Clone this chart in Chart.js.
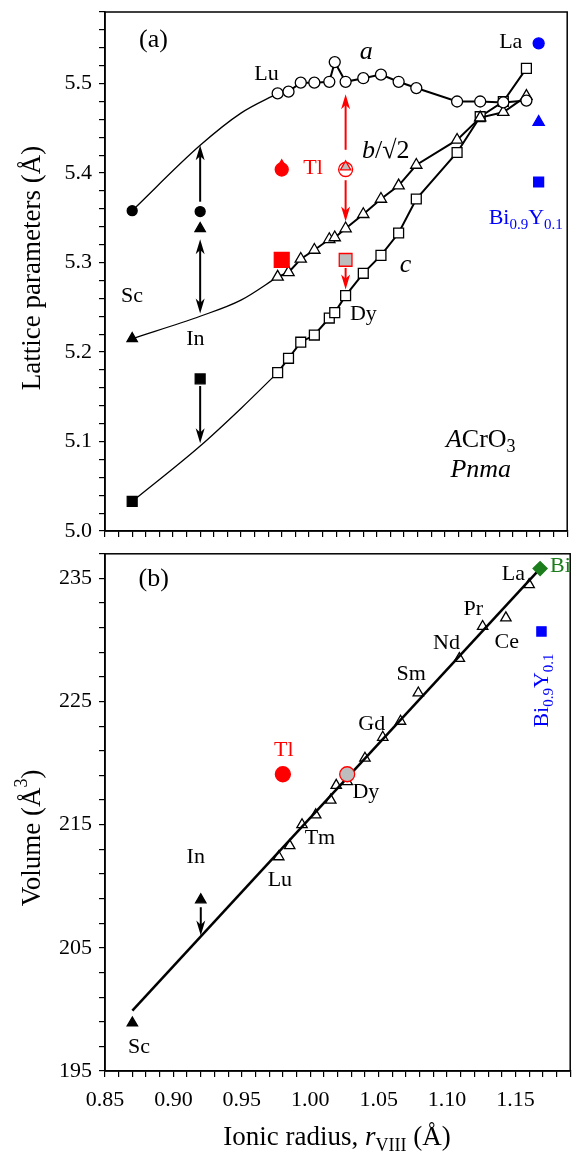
<!DOCTYPE html>
<html>
<head>
<meta charset="utf-8">
<title>ACrO3 lattice parameters and volume</title>
<script src="https://cdn.jsdelivr.net/npm/chart.js@4.4.1/dist/chart.umd.min.js"></script>
<style>
  body { margin: 0; background: #fff; }
  #wrap { position: relative; width: 579px; height: 1152px; }
  canvas { position: absolute; left: 0; }
</style>
</head>
<body>
<div id="wrap">
  <canvas id="chartA" width="579" height="545" style="top:0"></canvas>
  <canvas id="chartB" width="579" height="607" style="top:545px"></canvas>
</div>
<script>
// rare-earth series, ionic radius r_VIII (Lu -> La)
var rareEarths = ['Lu', 'Yb', 'Tm', 'Er', 'Ho', 'Y', 'Dy', 'Tb', 'Gd', 'Eu', 'Sm', 'Nd', 'Pr', 'Ce', 'La'];
var radius = [0.977, 0.985, 0.994, 1.004, 1.015, 1.019, 1.027, 1.040, 1.053, 1.066, 1.079, 1.109, 1.126, 1.143, 1.160];
var aParam = [5.489, 5.491, 5.501, 5.501, 5.502, 5.524, 5.502, 5.506, 5.510, 5.502, 5.495, 5.480, 5.480, 5.479, 5.481];
var bParam = [5.284, 5.289, 5.304, 5.314, 5.326, 5.328, 5.338, 5.354, 5.371, 5.386, 5.409, 5.437, 5.462, 5.468, 5.486];
var cParam = [5.177, 5.193, 5.211, 5.219, 5.238, 5.244, 5.263, 5.288, 5.308, 5.333, 5.371, 5.423, 5.463, 5.480, 5.517];
var volume = [212.4, 213.3, 215.0, 215.8, 217.0, 218.2, 218.5, 220.4, 222.1, 223.4, 225.7, 228.5, 231.1, 231.8, 234.5];

// Sc and In
var scInRadius = [0.870, 0.920];
var scInA = [5.358, 5.357];
var scInB = [5.215, 5.338];
var scInC = [5.033, 5.170];
var scInVolume = [198.9, 208.9];

// Tl
var tlRadius = [0.980];
var tlA = [5.404];
var tlB = [5.408];
var tlC = [5.303];
var tlVolume = [219.1];

// Dy (grey symbols)
var dyRadius = [1.027];
var dyA = [5.404];
var dyB = [5.407];
var dyC = [5.303];
var dyVolume = [219.1];

// Bi0.9Y0.1 and Bi
var biYRadius = [1.169];
var biYA = [5.545];
var biYB = [5.457];
var biYC = [5.390];
var biYVolume = [230.7];
var biRadius = [1.168];
var biVolume = [235.8];

// guide curves from Sc to Lu
var guideRadius = [0.870, 0.920, 0.950, 0.977];
var guideA = [5.358, 5.431, 5.467, 5.489];
var guideB = [5.215, 5.240, 5.258, 5.284];
var guideC = [5.033, 5.095, 5.137, 5.177];

// straight line through the volumes
var fitRadius = [0.870, 1.168];
var fitVolume = [199.9, 235.8];

// tick labels
var radiusTicks = [0.85, 0.90, 0.95, 1.00, 1.05, 1.10, 1.15];
var latticeTicks = [5.0, 5.1, 5.2, 5.3, 5.4, 5.5];
var volumeTicks = [195, 205, 215, 225, 235];

var serif = '"Liberation Serif", "Times New Roman", serif';
var red = '#ff0000', grey = '#bdbdbd', blue = '#0000ff', green = '#1b7d1b';

function pts(xs, ys) {
  return xs.map(function (x, i) { return { x: x, y: ys[i] }; });
}

function stepTicks(min, max, step) {
  var out = [];
  var n = Math.round((max - min) / step);
  for (var i = 0; i <= n; i++) out.push({ value: +(min + i * step).toFixed(4) });
  return out;
}

function labelFor(v, list, digits) {
  for (var i = 0; i < list.length; i++) {
    if (Math.abs(list[i] - v) < 1e-6) return v.toFixed(digits);
  }
  return '';
}

function noPad(s) {
  s.paddingTop = 0; s.paddingBottom = 0; s.paddingLeft = 0; s.paddingRight = 0;
}

// text made of parts: [text, style], style '' | 'i' | 'sub' | 'sup'
function partFont(p, size) {
  var small = p[1] === 'sub' || p[1] === 'sup';
  return (p[1] === 'i' ? 'italic ' : '') + (small ? Math.round(size * 0.68) : size) + 'px ' + serif;
}

function drawRich(ctx, parts, x, y, size, align) {
  var w = 0;
  parts.forEach(function (p) { ctx.font = partFont(p, size); w += ctx.measureText(p[0]).width; });
  var cx = align === 'left' ? x : (align === 'right' ? x - w : x - w / 2);
  ctx.textAlign = 'left';
  ctx.textBaseline = 'middle';
  parts.forEach(function (p) {
    ctx.font = partFont(p, size);
    var dy = p[1] === 'sub' ? size * 0.3 : (p[1] === 'sup' ? -size * 0.4 : 0);
    ctx.fillText(p[0], cx, y + dy);
    cx += ctx.measureText(p[0]).width;
  });
}

function arrowHead(ctx, x, y, dir) {
  var len = 15, half = 4.5;
  ctx.beginPath();
  ctx.moveTo(x, y);
  ctx.lineTo(x - half, y - dir * len);
  ctx.lineTo(x, y - dir * len * 0.72);
  ctx.lineTo(x + half, y - dir * len);
  ctx.closePath();
  ctx.fill();
}

function drawArrow(ctx, x, y0, y1, color, both) {
  var dir = y1 > y0 ? 1 : -1;
  ctx.strokeStyle = color;
  ctx.fillStyle = color;
  ctx.lineWidth = 2;
  ctx.beginPath();
  ctx.moveTo(x, y0 + (both ? dir * 10 : 0));
  ctx.lineTo(x, y1 - dir * 10);
  ctx.stroke();
  arrowHead(ctx, x, y1, dir);
  if (both) arrowHead(ctx, x, y0, -dir);
}

// frame, arrows, labels and axis titles on top of the datasets
function overlay(labels, arrows, titles) {
  return {
    id: 'overlay',
    afterDraw: function (chart) {
      var ctx = chart.ctx, xs = chart.scales.x, ys = chart.scales.y, area = chart.chartArea;
      ctx.save();
      ctx.strokeStyle = '#000';
      ctx.lineWidth = 1.5;
      ctx.strokeRect(area.left, area.top, area.right - area.left, area.bottom - area.top);
      arrows.forEach(function (a) {
        drawArrow(ctx, xs.getPixelForValue(a.x), ys.getPixelForValue(a.from), ys.getPixelForValue(a.to), a.color || '#000', a.both);
      });
      labels.forEach(function (l) {
        ctx.fillStyle = l.color || '#000';
        var px = xs.getPixelForValue(l.x), py = ys.getPixelForValue(l.y);
        if (l.rotate) {
          ctx.save();
          ctx.translate(px, py);
          ctx.rotate(l.rotate);
          drawRich(ctx, l.parts, 0, 0, l.size, 'center');
          ctx.restore();
        } else {
          drawRich(ctx, l.parts, px, py, l.size, l.align || 'center');
        }
      });
      titles.forEach(function (t) {
        ctx.fillStyle = '#000';
        ctx.save();
        ctx.translate(t.x, t.y);
        if (t.rotate) ctx.rotate(t.rotate);
        drawRich(ctx, t.parts, 0, 0, t.size, 'center');
        ctx.restore();
      });
      ctx.restore();
    }
  };
}

function radiusAxis(showLabels, height) {
  return {
    type: 'linear', min: 0.85, max: 1.19,
    afterBuildTicks: function (s) { s.ticks = stepTicks(0.85, 1.19, 0.01); },
    afterFit: function (s) { s.height = height; noPad(s); },
    ticks: {
      autoSkip: false, maxRotation: 0, minRotation: 0, padding: 10, color: '#000',
      font: { family: serif, size: 22 },
      callback: function (v) { return showLabels ? labelFor(v, radiusTicks, 2) : ''; }
    },
    grid: { drawOnChartArea: false, drawTicks: true, tickLength: 6, color: '#000', lineWidth: 1.2 },
    border: { display: true, color: '#000', width: 1.5 }
  };
}

function valueAxis(min, max, step, list, digits) {
  return {
    type: 'linear', min: min, max: max,
    afterBuildTicks: function (s) { s.ticks = stepTicks(min, max, step); },
    afterFit: function (s) { s.width = 105; noPad(s); },
    ticks: {
      autoSkip: false, padding: 7, color: '#000',
      font: { family: serif, size: 22 },
      callback: function (v) { return labelFor(v, list, digits); }
    },
    grid: { drawOnChartArea: false, drawTicks: true, tickLength: 6, color: '#000', lineWidth: 1.2 },
    border: { display: true, color: '#000', width: 1.5 }
  };
}

function marks(data, style, r, fill, edge, extra) {
  var ds = {
    data: data, showLine: false, pointStyle: style, pointRadius: r,
    pointBackgroundColor: fill, pointBorderColor: edge || fill, pointBorderWidth: 1.3,
    borderColor: edge || fill
  };
  for (var k in extra || {}) ds[k] = extra[k];
  return ds;
}

function guide(ys) {
  return {
    data: pts(guideRadius, ys), showLine: true, pointRadius: 0,
    borderColor: '#000', borderWidth: 1.3, cubicInterpolationMode: 'monotone'
  };
}

var common = {
  type: 'scatter',
  options: {
    responsive: false, animation: false, events: [],
    plugins: { legend: { display: false }, tooltip: { enabled: false } }
  }
};

// (a) lattice parameters
var labelsA = [
  { x: 0.8856, y: 5.549, parts: [['(a)', '']], size: 26 },
  { x: 0.9688, y: 5.511, parts: [['Lu', '']], size: 22 },
  { x: 1.0421, y: 5.535, parts: [['a', 'i']], size: 26 },
  { x: 1.1485, y: 5.546, parts: [['La', '']], size: 22 },
  { x: 1.0565, y: 5.424, parts: [['b', 'i'], ['/\u221A2', '']], size: 26 },
  { x: 1.0030, y: 5.405, parts: [['Tl', '']], size: 22, color: red },
  { x: 0.8698, y: 5.262, parts: [['Sc', '']], size: 22 },
  { x: 0.9165, y: 5.214, parts: [['In', '']], size: 22 },
  { x: 1.0401, y: 5.242, parts: [['Dy', '']], size: 22 },
  { x: 1.0711, y: 5.297, parts: [['c', 'i']], size: 26 },
  { x: 1.1595, y: 5.349, parts: [['Bi', ''], ['0.9', 'sub'], ['Y', ''], ['0.1', 'sub']], size: 22, color: blue },
  { x: 1.1264, y: 5.102, parts: [['A', 'i'], ['CrO', ''], ['3', 'sub']], size: 26 },
  { x: 1.1264, y: 5.068, parts: [['Pnma', 'i']], size: 26 }
];
var arrowsA = [
  { x: 0.92, from: 5.368, to: 5.431 },
  { x: 0.92, from: 5.326, to: 5.243, both: true },
  { x: 0.92, from: 5.162, to: 5.098 },
  { x: 1.027, from: 5.426, to: 5.488, color: red },
  { x: 1.027, from: 5.392, to: 5.346, color: red },
  { x: 1.027, from: 5.294, to: 5.270, color: red }
];
var titlesA = [
  { x: 33, y: 268, rotate: -Math.PI / 2, parts: [['Lattice parameters (\u00C5)', '']], size: 27 }
];

new Chart(document.getElementById('chartA'), {
  type: common.type,
  data: {
    datasets: [
      marks(pts(tlRadius, tlB), 'triangle', 6, red),
      marks(pts(tlRadius, tlA), 'circle', 6.5, red),
      marks(pts(tlRadius, tlC), 'rect', 10.5, red),
      marks(pts(dyRadius, dyB), 'triangle', 6, grey, red),
      marks(pts(dyRadius, dyA), 'circle', 7, '#fff', red),
      marks(pts(dyRadius, dyC), 'rect', 9, grey, red),
      marks(pts(biYRadius, biYA), 'circle', 5.5, blue),
      marks(pts(biYRadius, biYB), 'triangle', 6.5, blue),
      marks(pts(biYRadius, biYC), 'rect', 7, blue),
      marks(pts(scInRadius, scInA), 'circle', 5, '#000'),
      marks(pts(scInRadius, scInB), 'triangle', 6, '#000'),
      marks(pts(scInRadius, scInC), 'rect', 7, '#000'),
      marks(pts(radius, aParam), 'circle', 5.5, '#fff', '#000', { showLine: true, borderWidth: 2 }),
      marks(pts(radius, bParam), 'triangle', 6.5, '#fff', '#000', { showLine: true, borderWidth: 2 }),
      marks(pts(radius, cParam), 'rect', 7, '#fff', '#000', { showLine: true, borderWidth: 2 }),
      guide(guideA),
      guide(guideB),
      guide(guideC)
    ]
  },
  options: Object.assign({}, common.options, {
    layout: { padding: { top: 12, right: 1, left: 0, bottom: 0 } },
    scales: {
      x: radiusAxis(false, 14),
      y: valueAxis(5.0, 5.58, 0.02, latticeTicks, 1)
    }
  }),
  plugins: [overlay(labelsA, arrowsA, titlesA)]
});

// (b) unit-cell volume
var labelsB = [
  { x: 0.8856, y: 234.92, parts: [['(b)', '']], size: 26 },
  { x: 1.1485, y: 235.34, parts: [['La', '']], size: 22 },
  { x: 1.1753, y: 236.0, parts: [['Bi', '']], size: 22, color: green, align: 'left' },
  { x: 1.1192, y: 232.54, parts: [['Pr', '']], size: 22 },
  { x: 1.1436, y: 229.8, parts: [['Ce', '']], size: 22 },
  { x: 1.0996, y: 229.7, parts: [['Nd', '']], size: 22 },
  { x: 1.0737, y: 227.2, parts: [['Sm', '']], size: 22 },
  { x: 1.0450, y: 223.14, parts: [['Gd', '']], size: 22 },
  { x: 1.0407, y: 217.6, parts: [['Dy', '']], size: 22 },
  { x: 1.0071, y: 213.88, parts: [['Tm', '']], size: 22 },
  { x: 0.9778, y: 210.5, parts: [['Lu', '']], size: 22 },
  { x: 0.9163, y: 212.4, parts: [['In', '']], size: 22 },
  { x: 0.8748, y: 196.9, parts: [['Sc', '']], size: 22 },
  { x: 0.9807, y: 221.08, parts: [['Tl', '']], size: 22, color: red },
  { x: 1.1696, y: 225.9, parts: [['Bi', ''], ['0.9', 'sub'], ['Y', ''], ['0.1', 'sub']], size: 22, color: blue, rotate: -Math.PI / 2 }
];
var arrowsB = [
  { x: 0.92, from: 208.3, to: 206.0 }
];
var titlesB = [
  { x: 33, y: 293, rotate: -Math.PI / 2, parts: [['Volume (\u00C5', ''], ['3', 'sup'], [')', '']], size: 27 },
  { x: 337, y: 593, parts: [['Ionic radius, ', ''], ['r', 'i'], ['VIII', 'sub'], [' (\u00C5)', '']], size: 27 }
];

new Chart(document.getElementById('chartB'), {
  type: common.type,
  data: {
    datasets: [
      marks(pts(tlRadius, tlVolume), 'circle', 7.5, red),
      marks(pts(dyRadius, dyVolume), 'circle', 7.5, grey, red),
      marks(pts(biRadius, biVolume), 'rectRot', 7, green),
      marks(pts(biYRadius, biYVolume), 'rect', 6.5, blue),
      marks(pts(scInRadius, scInVolume), 'triangle', 6, '#000'),
      { data: pts(fitRadius, fitVolume), showLine: true, pointRadius: 0, borderColor: '#000', borderWidth: 2.5 },
      marks(pts(radius, volume), 'triangle', 6, '#fff', '#000')
    ]
  },
  options: Object.assign({}, common.options, {
    layout: { padding: { top: 1, right: 1, left: 0, bottom: 0 } },
    scales: {
      x: radiusAxis(true, 81),
      y: valueAxis(195, 237, 2, volumeTicks, 0)
    }
  }),
  plugins: [overlay(labelsB, arrowsB, titlesB)]
});
</script>
</body>
</html>
